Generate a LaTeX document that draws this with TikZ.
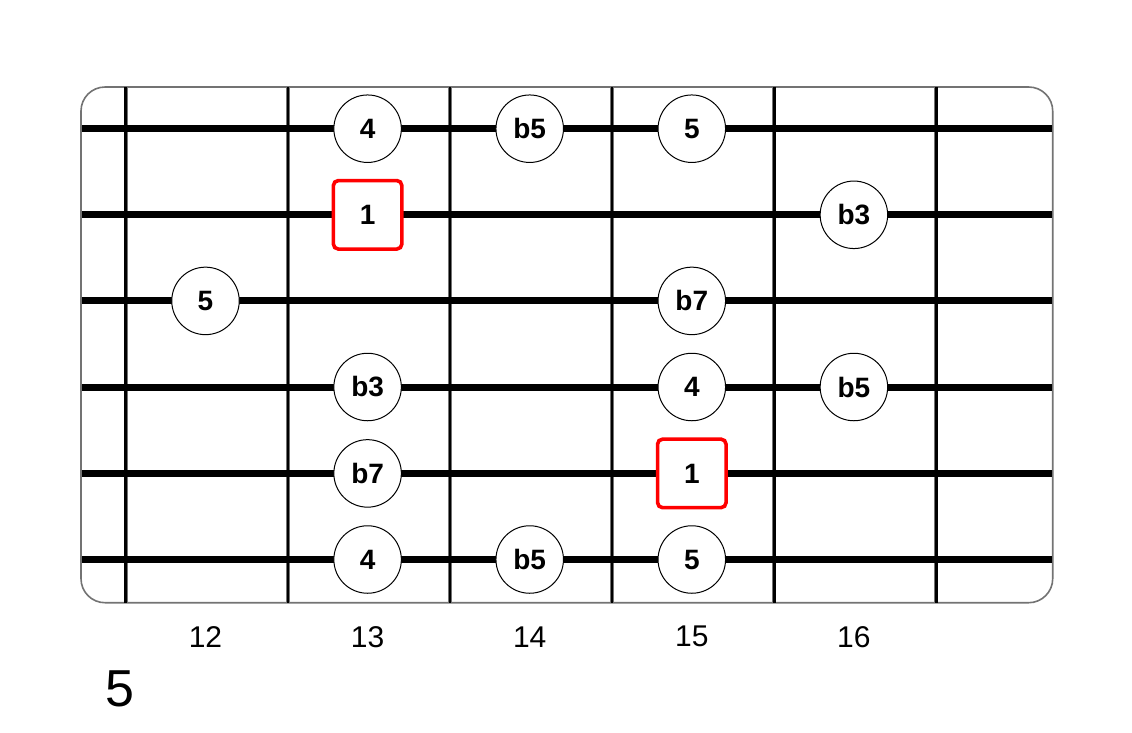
\documentclass[tikz,border=0pt]{standalone}
\usepackage{fontspec}
\setmainfont{Liberation Sans}
\begin{document}
\begin{tikzpicture}[x=1pt,y=-1pt,
  note/.style={circle,draw=black,line width=1pt,fill=white,minimum size=67.5pt,inner sep=0pt,
    font=\fontsize{28}{28}\selectfont\bfseries},
  root/.style={rectangle,rounded corners=5pt,draw=red,line width=3.6pt,fill=white,minimum size=68.5pt,inner sep=0pt,
    font=\fontsize{28}{28}\selectfont\bfseries},
  fretlbl/.style={font=\fontsize{30}{30}\selectfont,inner sep=0pt},
  board/.style={draw=black!55,line width=1.6pt,fill=white,rounded corners=24pt},
  fretline/.style={line width=4.2pt,draw=black!55},
  fretcore/.style={line width=2.6pt,draw=black},
  stringline/.style={line width=7pt,draw=black},
]
\useasboundingbox (0,0) rectangle (1132,732);
% board
\draw[board] (81,87) rectangle (1052.7,602.7);
% frets
\foreach \fx in {125.7,287.8,449.9,612.1,774.2,936.3}{
  \draw[fretline] (\fx,87) -- (\fx,602.7);
  \draw[fretcore] (\fx,87) -- (\fx,602.7);
}
% strings
\foreach \sy in {128.7,214.8,300.9,387.0,473.1,559.3}{
  \draw[stringline] (81.8,\sy) -- (1051.9,\sy);
}
% notes: string 1
\node[note] (n1a) at (367.6,128.7) {4};
\node[note] (n1b) at (529.7,128.7) {b5};
\node[note] (n1c) at (691.8,128.7) {5};
% string 2
\node[root] (n2a) at (367.6,214.8) {1};
\node[note] (n2b) at (853.9,214.8) {b3};
% string 3
\node[note] (n3a) at (205.5,300.9) {5};
\node[note] (n3b) at (691.8,300.9) {b7};
% string 4
\node[note] (n4a) at (367.6,387.0) {b3};
\node[note] (n4b) at (691.8,387.0) {4};
\node[note] (n4c) at (853.9,387.0) {b5};
% string 5
\node[note] (n5a) at (367.6,473.4) {b7};
\node[root] (n5b) at (691.8,473.4) {1};
% string 6
\node[note] (n6a) at (367.6,559.5) {4};
\node[note] (n6b) at (529.7,559.5) {b5};
\node[note] (n6c) at (691.8,559.5) {5};
% fret numbers
\node[fretlbl] (f12) at (205.5,636.7) {12};
\node[fretlbl] (f13) at (367.6,636.7) {13};
\node[fretlbl] (f14) at (529.7,636.7) {14};
\node[fretlbl] (f15) at (691.8,636.7) {15};
\node[fretlbl] (f16) at (853.9,636.7) {16};
% position label
\node[font=\fontsize{52}{52}\selectfont,inner sep=0pt] (pos) at (120,688.5) {5};
\end{tikzpicture}
\end{document}
